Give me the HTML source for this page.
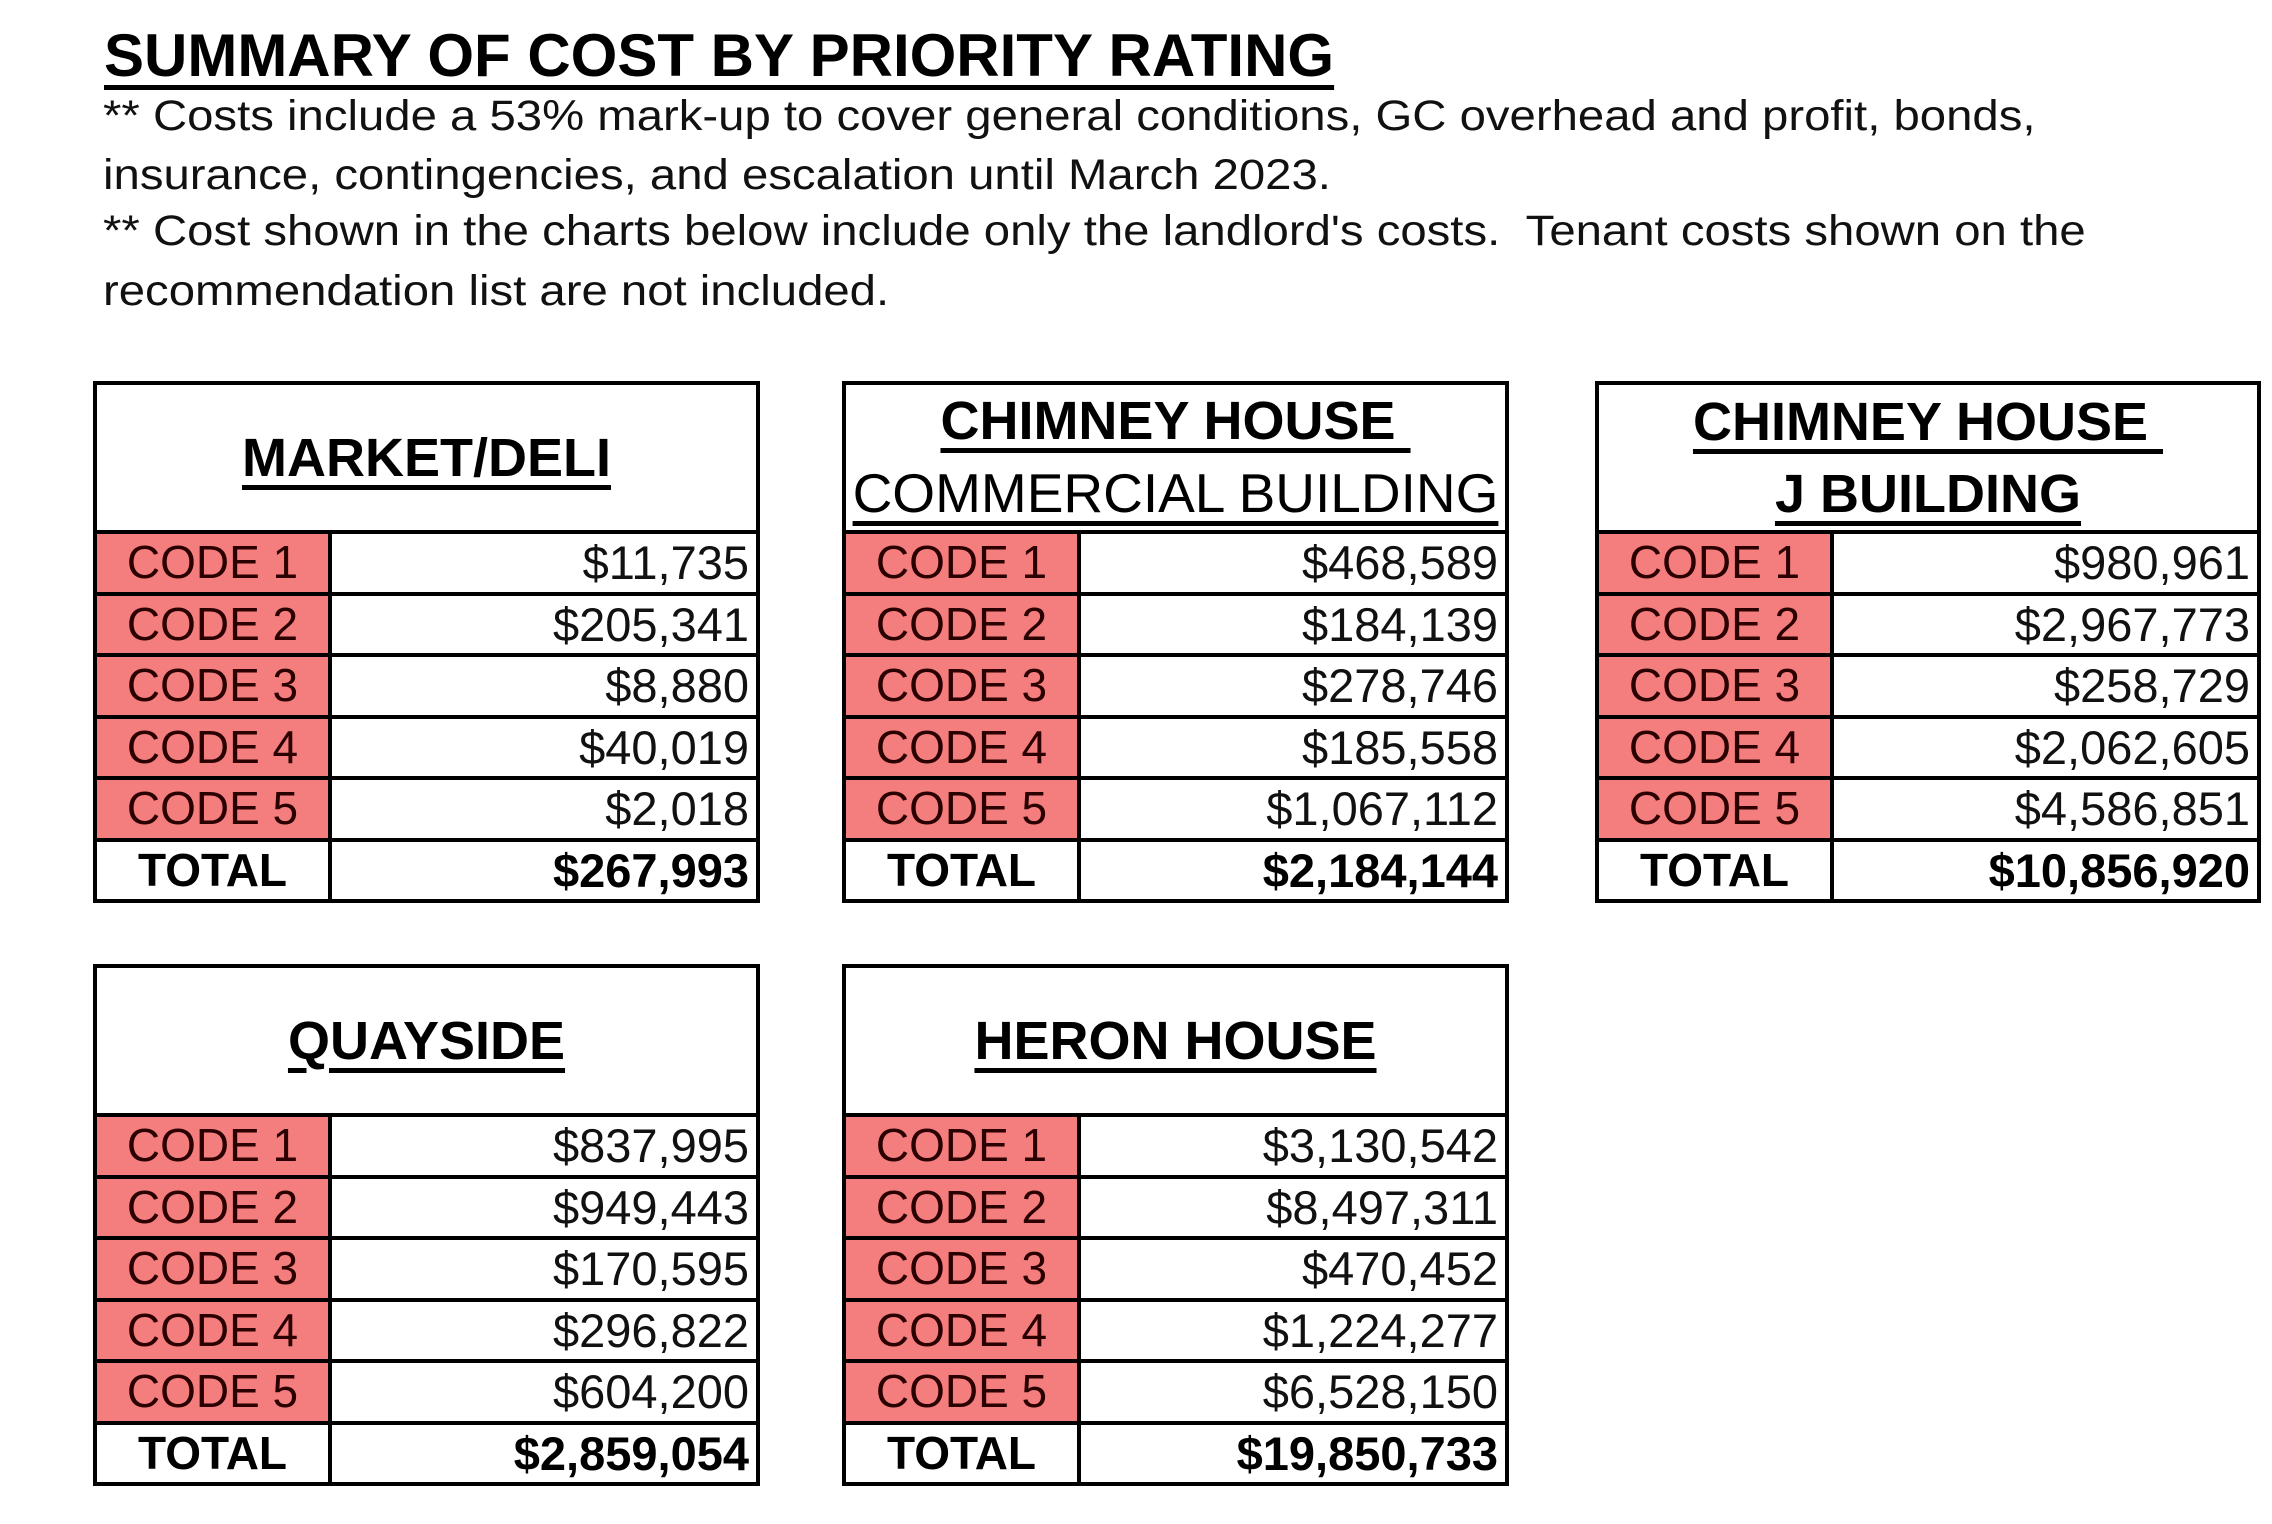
<!DOCTYPE html>
<html><head><meta charset="utf-8"><style>
html,body{margin:0;padding:0;background:#fff;}
body{width:2272px;height:1524px;position:relative;overflow:hidden;font-family:"Liberation Sans",Arial,sans-serif;color:#000;}
.title{position:absolute;left:104px;top:16px;font-size:60px;font-weight:bold;line-height:80px;text-decoration:underline;text-decoration-thickness:5px;text-underline-offset:9px;white-space:nowrap;}
.note{position:absolute;left:103px;font-size:43px;line-height:50px;white-space:nowrap;color:#111;transform:scaleX(1.1);transform-origin:0 0;}
.t{position:absolute;width:667px;height:522px;border:4px solid #000;box-sizing:border-box;display:flex;flex-direction:column;background:#fff;}
.h{height:145px;display:flex;align-items:center;justify-content:center;text-align:center;font-size:54px;font-weight:bold;line-height:72px;}
.h span{text-decoration:underline;text-decoration-thickness:5px;text-underline-offset:9px;white-space:pre;}
.h .n{font-weight:normal;font-size:55px;}
.r{height:61.5px;box-sizing:border-box;border-top:4px solid #000;display:flex;}
.l{width:231px;border-right:4px solid #000;box-sizing:content-box;background:#f47d7d;color:#2a0000;font-size:46px;line-height:57px;text-align:center;}
.v{flex:1;text-align:right;padding-right:7px;font-size:47px;line-height:57px;color:#111;}
.tot .l{background:#fff;color:#000;font-weight:bold;}
.tot .v{font-weight:bold;color:#000;}
</style></head><body>
<div class="title">SUMMARY OF COST BY PRIORITY RATING</div>
<div class="note" style="top:91px">** Costs include a 53% mark-up to cover general conditions, GC overhead and profit, bonds,</div>
<div class="note" style="top:150px">insurance, contingencies, and escalation until March 2023.</div>
<div class="note" style="top:206px">** Cost shown in the charts below include only the landlord's costs.&nbsp; Tenant costs shown on the</div>
<div class="note" style="top:266px">recommendation list are not included.</div>

<div class="t" style="left:93px;top:381px">
<div class="h"><span>MARKET/DELI</span></div>
<div class="r"><div class="l">CODE 1</div><div class="v">$11,735</div></div>
<div class="r"><div class="l">CODE 2</div><div class="v">$205,341</div></div>
<div class="r"><div class="l">CODE 3</div><div class="v">$8,880</div></div>
<div class="r"><div class="l">CODE 4</div><div class="v">$40,019</div></div>
<div class="r"><div class="l">CODE 5</div><div class="v">$2,018</div></div>
<div class="r tot"><div class="l">TOTAL</div><div class="v">$267,993</div></div>
</div>

<div class="t" style="left:842px;top:381px">
<div class="h"><div><span>CHIMNEY HOUSE </span><br><span class="n">COMMERCIAL BUILDING</span></div></div>
<div class="r"><div class="l">CODE 1</div><div class="v">$468,589</div></div>
<div class="r"><div class="l">CODE 2</div><div class="v">$184,139</div></div>
<div class="r"><div class="l">CODE 3</div><div class="v">$278,746</div></div>
<div class="r"><div class="l">CODE 4</div><div class="v">$185,558</div></div>
<div class="r"><div class="l">CODE 5</div><div class="v">$1,067,112</div></div>
<div class="r tot"><div class="l">TOTAL</div><div class="v">$2,184,144</div></div>
</div>

<div class="t" style="left:1595px;top:381px;width:666px">
<div class="h"><div><span>CHIMNEY HOUSE </span><br><span>J BUILDING</span></div></div>
<div class="r"><div class="l">CODE 1</div><div class="v">$980,961</div></div>
<div class="r"><div class="l">CODE 2</div><div class="v">$2,967,773</div></div>
<div class="r"><div class="l">CODE 3</div><div class="v">$258,729</div></div>
<div class="r"><div class="l">CODE 4</div><div class="v">$2,062,605</div></div>
<div class="r"><div class="l">CODE 5</div><div class="v">$4,586,851</div></div>
<div class="r tot"><div class="l">TOTAL</div><div class="v">$10,856,920</div></div>
</div>

<div class="t" style="left:93px;top:964px">
<div class="h"><span>QUAYSIDE</span></div>
<div class="r"><div class="l">CODE 1</div><div class="v">$837,995</div></div>
<div class="r"><div class="l">CODE 2</div><div class="v">$949,443</div></div>
<div class="r"><div class="l">CODE 3</div><div class="v">$170,595</div></div>
<div class="r"><div class="l">CODE 4</div><div class="v">$296,822</div></div>
<div class="r"><div class="l">CODE 5</div><div class="v">$604,200</div></div>
<div class="r tot"><div class="l">TOTAL</div><div class="v">$2,859,054</div></div>
</div>

<div class="t" style="left:842px;top:964px">
<div class="h"><span>HERON HOUSE</span></div>
<div class="r"><div class="l">CODE 1</div><div class="v">$3,130,542</div></div>
<div class="r"><div class="l">CODE 2</div><div class="v">$8,497,311</div></div>
<div class="r"><div class="l">CODE 3</div><div class="v">$470,452</div></div>
<div class="r"><div class="l">CODE 4</div><div class="v">$1,224,277</div></div>
<div class="r"><div class="l">CODE 5</div><div class="v">$6,528,150</div></div>
<div class="r tot"><div class="l">TOTAL</div><div class="v">$19,850,733</div></div>
</div>
</body></html>
